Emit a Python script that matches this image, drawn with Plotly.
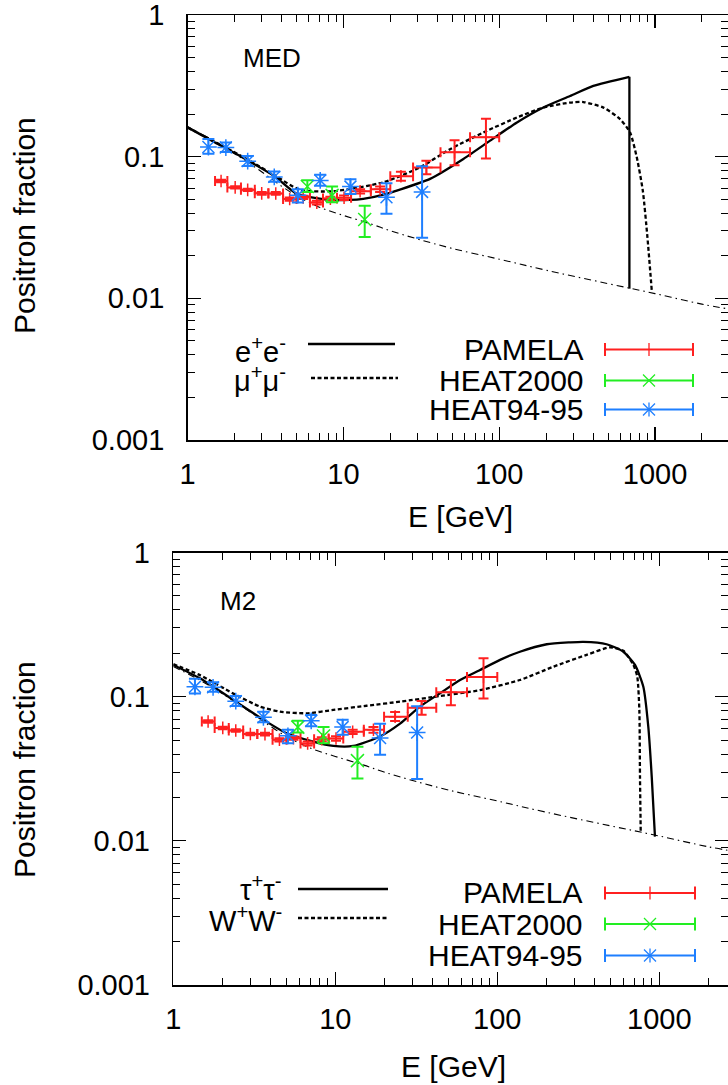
import plotly.graph_objects as go

W, H = 728, 1085

# ---------------- data ----------------
# PAMELA positron fraction (bin centres, bin edges, value, errors)
pam_E = [1.64, 2.02, 2.43, 2.99, 3.68, 4.52, 5.52, 6.75, 8.25, 10.1, 12.8, 17.2, 23.4, 34.1, 51.7, 82.2]
pam_Elo = [1.5, 1.8, 2.2, 2.7, 3.3, 4.1, 5.0, 6.1, 7.4, 9.1, 11.2, 15.0, 20.0, 28.0, 42.0, 65.0]
pam_Ehi = [1.8, 2.2, 2.7, 3.3, 4.1, 5.0, 6.1, 7.4, 9.1, 11.2, 15.0, 20.0, 28.0, 42.0, 65.0, 100.0]
pam_f = [0.0673, 0.0607, 0.0583, 0.0551, 0.0550, 0.0502, 0.0516, 0.0474, 0.0506, 0.0513,
         0.0570, 0.0590, 0.0727, 0.0839, 0.1075, 0.1370]
pam_up = [0.0014, 0.0012, 0.0011, 0.0012, 0.0012, 0.0013, 0.0014, 0.0015, 0.0016, 0.0018,
          0.0020, 0.0027, 0.0055, 0.0095, 0.0232, 0.0480]
pam_dn = [0.0013, 0.0012, 0.0011, 0.0012, 0.0012, 0.0013, 0.0014, 0.0015, 0.0016, 0.0018,
          0.0020, 0.0027, 0.0050, 0.0089, 0.0204, 0.0400]

# HEAT2000
h00_E = [5.87, 8.46, 13.7]
h00_f = [0.0615, 0.0533, 0.0360]
h00_up = [0.0067, 0.0082, 0.0090]
h00_dn = [0.0051, 0.0057, 0.0089]

# HEAT94-95
h94_E = [1.36, 1.76, 2.43, 3.6, 5.1, 7.1, 11.1, 18.9, 32.0]
h94_f = [0.117, 0.116, 0.093, 0.072, 0.0535, 0.068, 0.0615, 0.0517, 0.0564]
h94_up = [0.016, 0.010, 0.008, 0.0065, 0.0055, 0.0065, 0.0078, 0.0132, 0.0293]
h94_dn = [0.012, 0.008, 0.007, 0.0055, 0.0060, 0.0057, 0.0070, 0.0122, 0.0296]

# secondary background (dash-dot)
bg_E = [1, 1.5, 2, 3, 4, 5, 7, 10, 15, 20, 30, 50, 100, 200, 500, 1000, 2000, 3000]
bg_f = [0.162, 0.128, 0.105, 0.078, 0.062, 0.053, 0.044, 0.0385, 0.0335, 0.0300, 0.0262,
        0.0225, 0.0189, 0.0158, 0.0127, 0.0108, 0.0091, 0.0084]

# MED panel: e+e- (solid) and mu+mu- (dashed)
med_ee_E = [1.0, 1.5, 2.45, 3.64, 5.02, 7.8, 11.0, 13.4, 19.0, 22.0, 36.0, 58.9, 87.4, 130, 192, 285, 402, 685, 685]
med_ee_f = [0.161, 0.126, 0.0937, 0.0723, 0.0546, 0.0498, 0.0495, 0.0504, 0.0546, 0.0576, 0.0697,
            0.0964, 0.1297, 0.1745, 0.2225, 0.268, 0.316, 0.366, 0.0117]
med_mm_E = [1.0, 1.5, 2.45, 3.64, 5.27, 8.6, 18.1, 31.0, 48.4, 83.2, 130, 192, 285, 347, 467, 597,
            692, 764, 835, 894, 953]
med_mm_f = [0.161, 0.127, 0.095, 0.0735, 0.0583, 0.057, 0.066, 0.084, 0.113, 0.152, 0.189, 0.222,
            0.241, 0.243, 0.222, 0.184, 0.148, 0.0989, 0.0576, 0.027, 0.0114]

# M2 panel: tau+tau- (solid) and W+W- (dashed)
m2_tt_E = [1.0, 1.46, 2.35, 3.77, 5.01, 7.32, 9.72, 12.9, 18.9, 25.1, 33.3, 44.3, 58.9, 78.2, 104,
           138, 202, 281, 340, 473, 600, 708, 797, 855, 898, 940]
m2_tt_f = [0.166, 0.134, 0.0948, 0.067, 0.0557, 0.0487, 0.0455, 0.0455, 0.053, 0.065, 0.0853,
           0.1056, 0.1305, 0.153, 0.18, 0.205, 0.231, 0.238, 0.240, 0.231, 0.205, 0.166, 0.117,
           0.0619, 0.0279, 0.0107]
m2_ww_E = [1.0, 1.46, 2.35, 3.43, 4.56, 6.66, 9.72, 15.6, 25.1, 44.3, 78.2, 138, 222, 356, 496,
           600, 692, 731, 753, 760, 768]
m2_ww_f = [0.168, 0.141, 0.105, 0.0853, 0.0787, 0.0767, 0.0809, 0.0865, 0.0923, 0.101, 0.111,
           0.1305, 0.1615, 0.195, 0.22, 0.208, 0.166, 0.138, 0.081, 0.0279, 0.0113]

x_ticks = [1, 10, 100, 1000]
x_ticktext = ["1", "10", "100", "1000"]
y_ticks = [0.001, 0.01, 0.1, 1]
y_ticktext = ["0.001", "0.01", "0.1", "1"]

panel_names = ["MED", "M2"]
curve_labels = [("e<sup>+</sup>e<sup>-</sup>", "\u03bc<sup>+</sup>\u03bc<sup>-</sup>"),
                ("\u03c4<sup>+</sup>\u03c4<sup>-</sup>", "W<sup>+</sup>W<sup>-</sup>")]
data_labels = ["PAMELA", "HEAT2000", "HEAT94-95"]

# ---------------- styling ----------------
RED, GREEN, BLUE = "#ff2020", "#22ee22", "#1e7fff"
FONT = "Liberation Sans, Arial, Helvetica, sans-serif"
FS = 29

# panel geometry in pixels (left axis x, top y, bottom y, px per x-decade)
geo = [dict(left=187.6, top=15.0, bottom=440.0, dec=155.8),
       dict(left=173.3, top=552.5, bottom=985.0, dec=162.0)]


def pxx(x):
    return x / W


def pxy(y):
    return 1 - y / H


fig = go.Figure()

curves = [((med_ee_E, med_ee_f), (med_mm_E, med_mm_f)),
          ((m2_tt_E, m2_tt_f), (m2_ww_E, m2_ww_f))]

minor_x = [m * 10 ** k for k in range(0, 4) for m in range(2, 10)]
minor_y = [m * 10.0 ** k for k in range(-3, 0) for m in range(2, 10)]


def add_curve(E, f, xa, ya, dash):
    # a vertical drop (repeated energy) is drawn straight, the rest smoothly
    if len(E) > 1 and E[-1] == E[-2]:
        fig.add_trace(go.Scatter(x=E[:-1], y=f[:-1], mode="lines", xaxis=xa, yaxis=ya,
                                 line=dict(color="black", width=2.3, dash=dash),
                                 line_shape="spline", line_smoothing=0.6, showlegend=False))
        fig.add_trace(go.Scatter(x=E[-2:], y=f[-2:], mode="lines", xaxis=xa, yaxis=ya,
                                 line=dict(color="black", width=2.3, dash=dash),
                                 showlegend=False))
    else:
        fig.add_trace(go.Scatter(x=E, y=f, mode="lines", xaxis=xa, yaxis=ya,
                                 line=dict(color="black", width=2.3, dash=dash),
                                 line_shape="spline", line_smoothing=0.6, showlegend=False))


layout_axes = {}
for i, g in enumerate(geo):
    xa = "x" if i == 0 else "x2"
    ya = "y" if i == 0 else "y2"
    (sE, sf), (dE, df) = curves[i]
    fig.add_trace(go.Scatter(x=bg_E, y=bg_f, mode="lines", xaxis=xa, yaxis=ya,
                             line=dict(color="black", width=1.1, dash="7px,4px,1.5px,4px"),
                             line_shape="spline", showlegend=False, hoverinfo="skip"))
    add_curve(sE, sf, xa, ya, "solid")
    add_curve(dE, df, xa, ya, "4px,2.5px")
    # PAMELA
    fig.add_trace(go.Scatter(
        x=pam_E, y=pam_f, mode="markers", xaxis=xa, yaxis=ya, showlegend=False,
        marker=dict(symbol="cross-thin-open", size=9, line=dict(color=RED, width=1.5), color=RED),
        error_y=dict(type="data", array=pam_up, arrayminus=pam_dn, color=RED, thickness=2, width=5),
        error_x=dict(type="data", array=[h - c for h, c in zip(pam_Ehi, pam_E)],
                     arrayminus=[c - l for c, l in zip(pam_E, pam_Elo)],
                     color=RED, thickness=2, width=5)))
    # HEAT2000
    fig.add_trace(go.Scatter(
        x=h00_E, y=h00_f, mode="markers", xaxis=xa, yaxis=ya, showlegend=False,
        marker=dict(symbol="x-thin-open", size=13, line=dict(color=GREEN, width=1.5), color=GREEN),
        error_y=dict(type="data", array=h00_up, arrayminus=h00_dn, color=GREEN, thickness=2, width=6)))
    # HEAT94-95
    fig.add_trace(go.Scatter(
        x=h94_E, y=h94_f, mode="markers", xaxis=xa, yaxis=ya, showlegend=False,
        marker=dict(symbol="asterisk-open", size=14, line=dict(color=BLUE, width=1.5), color=BLUE),
        error_y=dict(type="data", array=h94_up, arrayminus=h94_dn, color=BLUE, thickness=2, width=6)))

    common = dict(type="log", showline=True, linecolor="black", linewidth=1.5, mirror="ticks",
                  ticks="inside", ticklen=13, tickwidth=1.3, tickcolor="black",
                  showgrid=False, zeroline=False, automargin=False, ticklabeloverflow="allow",
                  tickfont=dict(family=FONT, size=FS, color="black"))
    xr = (W - g["left"]) / g["dec"]
    layout_axes["xaxis" if i == 0 else "xaxis2"] = dict(
        common, domain=[pxx(g["left"]), 1.0], range=[0, xr], anchor=ya,
        tickmode="array", tickvals=x_ticks, ticktext=x_ticktext, ticklabelstandoff=8,
        minor=dict(ticks="inside", ticklen=7, tickwidth=1, tickcolor="black", showgrid=False,
                   tickmode="array", tickvals=minor_x))
    layout_axes["yaxis" if i == 0 else "yaxis2"] = dict(
        common, domain=[pxy(g["bottom"]), pxy(g["top"])], range=[-3, 0], anchor=xa,
        tickmode="array", tickvals=y_ticks, ticktext=y_ticktext, ticklabelstandoff=16,
        minor=dict(ticks="inside", ticklen=7, tickwidth=1, tickcolor="black", showgrid=False,
                   tickmode="array", tickvals=minor_y))

fig.update_layout(**layout_axes)

# ---------------- text & legend (pixel positions) ----------------
ann = []
shapes = []


def text(x, y, s, xanchor="left", size=FS, angle=0):
    ann.append(dict(x=pxx(x), y=pxy(y), xref="paper", yref="paper", text=s, showarrow=False,
                    xanchor=xanchor, yanchor="middle", textangle=angle,
                    font=dict(family=FONT, size=size, color="black")))


def seg(x0, y0, x1, y1, color="black", width=2, dash="solid"):
    shapes.append(dict(type="line", xref="paper", yref="paper", x0=pxx(x0), y0=pxy(y0),
                       x1=pxx(x1), y1=pxy(y1), line=dict(color=color, width=width, dash=dash)))


legend_geo = [
    dict(title_y=226, xlabel_x=460, xlabel_y=516, name=(241, 58),
         ctext_r=288, c1_y=350, c2_y=379, l1=(308, 395, 344), l2=(311, 398, 378),
         dtext_r=586, d_y=(349.5, 380.5, 409.5), dl=(605, 693, 649)),
    dict(title_y=770, xlabel_x=453, xlabel_y=1066, name=(218, 601),
         ctext_r=284, c1_y=888, c2_y=919, l1=(298, 388, 889), l2=(298, 388, 918),
         dtext_r=585, d_y=(893, 924, 955.5), dl=(605, 695, 650)),
]

for i, lg in enumerate(legend_geo):
    text(24, lg["title_y"], "Positron fraction", xanchor="center", angle=-90, size=30)
    text(lg["xlabel_x"], lg["xlabel_y"], "E [GeV]", xanchor="center", size=30)
    text(lg["name"][0], lg["name"][1], panel_names[i], size=26)
    text(lg["ctext_r"], lg["c1_y"], curve_labels[i][0], xanchor="right", size=29)
    text(lg["ctext_r"], lg["c2_y"], curve_labels[i][1], xanchor="right", size=29)
    x0, x1, yy = lg["l1"]
    seg(x0, yy, x1, yy, width=2.3)
    x0, x1, yy = lg["l2"]
    seg(x0, yy, x1, yy, width=2.3, dash="4px,2.5px")
    cols = [RED, GREEN, BLUE]
    lx0, lx1, lxm = lg["dl"]
    for k in range(3):
        yy = lg["d_y"][k]
        text(lg["dtext_r"], yy, data_labels[k], xanchor="right", size=30)
        c = cols[k]
        seg(lx0, yy, lx1, yy, color=c, width=2)
        seg(lx0, yy - 6.5, lx0, yy + 6.5, color=c, width=2)
        seg(lx1, yy - 6.5, lx1, yy + 6.5, color=c, width=2)
        if k == 0:
            seg(lxm, yy - 6.5, lxm, yy + 6.5, color=c, width=1.3)
        else:
            seg(lxm - 6, yy - 6, lxm + 6, yy + 6, color=c, width=1.3)
            seg(lxm - 6, yy + 6, lxm + 6, yy - 6, color=c, width=1.3)
            if k == 2:
                seg(lxm, yy - 7, lxm, yy + 7, color=c, width=1.3)

fig.update_layout(annotations=ann, shapes=shapes, width=W, height=H, autosize=False,
                  template="none",
                  margin=dict(l=0, r=0, t=0, b=0, pad=0), plot_bgcolor="white",
                  paper_bgcolor="white", showlegend=False)

fig.write_html("out.html", config={"displayModeBar": False, "staticPlot": True},
               post_script="document.body.style.margin='0';document.body.style.overflow='hidden';")
